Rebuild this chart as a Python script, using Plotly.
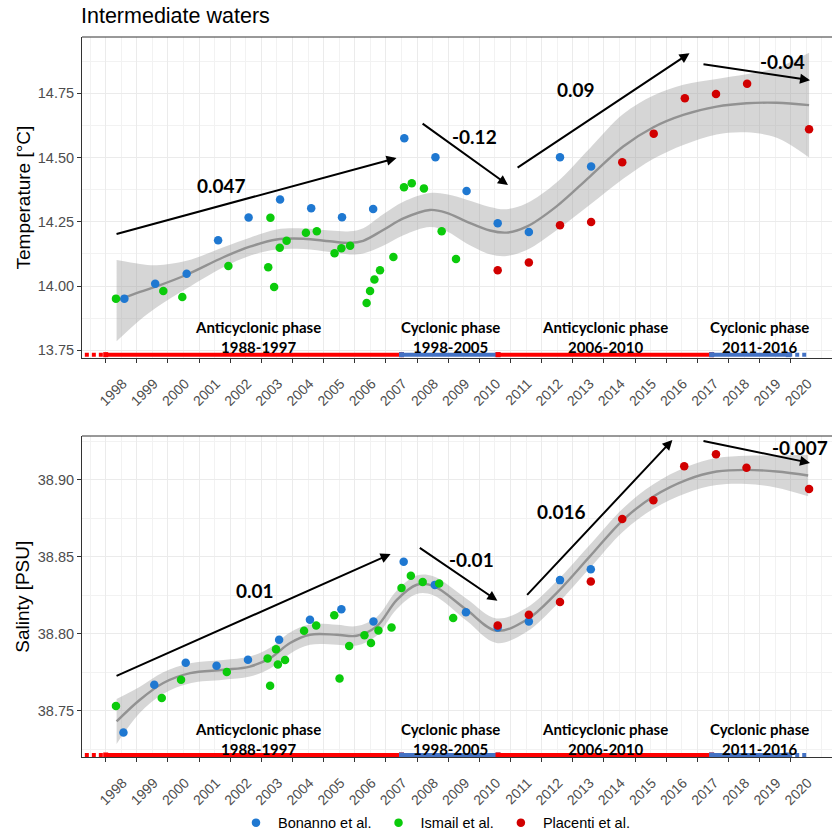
import plotly.graph_objects as go

# ---------------- data ----------------
tick_years = list(range(1998, 2021))

# Temperature (intermediate waters)
bon_t_year = [1998.60, 1999.59, 2000.60, 2001.61, 2002.59, 2003.60, 2004.60, 2005.59,
              2006.59, 2007.59, 2008.59, 2009.59, 2010.59, 2011.59, 2012.59, 2013.59]
bon_t_val = [13.951, 14.009, 14.048, 14.178, 14.267, 14.337, 14.303, 14.268,
             14.300, 14.575, 14.501, 14.370, 14.244, 14.210, 14.501, 14.465]

ism_t_year = [1998.33, 1999.85, 2000.46, 2001.94, 2003.22, 2003.29, 2003.41, 2003.59,
              2003.81, 2004.43, 2004.78, 2005.35, 2005.57, 2005.85, 2006.38, 2006.49,
              2006.63, 2006.81, 2007.24, 2007.58, 2007.83, 2008.22, 2008.79, 2009.25]
ism_t_val = [13.951, 13.981, 13.957, 14.078, 14.073, 14.266, 13.996, 14.149,
             14.176, 14.207, 14.213, 14.128, 14.147, 14.157, 13.934, 13.981,
             14.025, 14.061, 14.113, 14.384, 14.400, 14.380, 14.213, 14.105]

pla_t_year = [2010.59, 2011.59, 2012.59, 2013.59, 2014.59, 2015.60, 2016.60, 2017.60, 2018.60, 2020.59]
pla_t_val = [14.061, 14.092, 14.237, 14.249, 14.482, 14.593, 14.731, 14.747, 14.787, 14.610]

# smoothed temperature trend and half-width of its confidence band
fit_t_year = [1998.35, 1999.10, 1999.64, 2000.60, 2001.78, 2002.63, 2003.49, 2004.35,
              2005.20, 2005.84, 2006.27, 2006.91, 2007.56, 2008.41, 2008.95, 2009.59,
              2010.34, 2010.88, 2011.52, 2012.48, 2013.55, 2014.62, 2015.59, 2016.55,
              2017.62, 2018.58, 2019.55, 2020.59]
fit_t_val = [13.943, 13.977, 13.999, 14.044, 14.112, 14.153, 14.181, 14.184,
             14.174, 14.168, 14.176, 14.218, 14.263, 14.296, 14.285, 14.251,
             14.216, 14.208, 14.231, 14.310, 14.426, 14.543, 14.618, 14.666,
             14.698, 14.711, 14.713, 14.704]
fit_t_se = [0.158, 0.109, 0.082, 0.054, 0.039, 0.035, 0.039, 0.040,
            0.042, 0.045, 0.049, 0.061, 0.065, 0.066, 0.072, 0.085,
            0.092, 0.091, 0.091, 0.093, 0.110, 0.126, 0.123, 0.117,
            0.108, 0.113, 0.136, 0.204]

# Salinity (intermediate waters)
bon_s_year = [1998.57, 1999.56, 2000.57, 2001.56, 2002.57, 2003.57, 2004.56, 2005.57,
              2006.60, 2007.57, 2008.57, 2009.57, 2010.59, 2011.59, 2012.59, 2013.58]
bon_s_val = [38.7358, 38.7668, 38.7811, 38.7792, 38.7831, 38.7961, 38.8091, 38.8160,
             38.8080, 38.8468, 38.8318, 38.8140, 38.8041, 38.8080, 38.8349, 38.8420]

ism_s_year = [1998.33, 1999.80, 2000.42, 2001.89, 2003.20, 2003.28, 2003.47, 2003.53,
              2003.76, 2004.37, 2004.76, 2005.34, 2005.51, 2005.82, 2006.31, 2006.52,
              2006.76, 2007.18, 2007.50, 2007.80, 2008.18, 2008.71, 2009.16]
ism_s_val = [38.7530, 38.7582, 38.7701, 38.7751, 38.7840, 38.7662, 38.7900, 38.7800,
             38.7829, 38.8020, 38.8054, 38.8121, 38.7710, 38.7920, 38.7991, 38.7940,
             38.8021, 38.8041, 38.8298, 38.8377, 38.8337, 38.8327, 38.8102]

pla_s_year = [2010.59, 2011.59, 2012.59, 2013.58, 2014.59, 2015.59, 2016.58, 2017.60, 2018.58, 2020.59]
pla_s_val = [38.8054, 38.8124, 38.8207, 38.8340, 38.8747, 38.8869, 38.9090, 38.9168, 38.9079, 38.8941]

fit_s_year = [1998.35, 1999.10, 1999.85, 2000.71, 2001.78, 2002.63, 2003.28, 2003.92,
              2004.56, 2005.42, 2006.06, 2006.70, 2007.35, 2007.99, 2008.52, 2009.59,
              2010.55, 2011.52, 2012.48, 2013.55, 2014.62, 2015.59, 2016.66, 2017.62,
              2018.58, 2019.55, 2020.56]
fit_s_val = [38.7430, 38.7571, 38.7680, 38.7744, 38.7766, 38.7787, 38.7842, 38.7940,
             38.7994, 38.7994, 38.7987, 38.8048, 38.8221, 38.8319, 38.8312, 38.8156,
             38.8020, 38.8091, 38.8265, 38.8503, 38.8741, 38.8893, 38.9001, 38.9055,
             38.9066, 38.9055, 38.9029]
fit_s_se = [0.0146, 0.0085, 0.0070, 0.0065, 0.0064, 0.0065, 0.0067, 0.0069,
            0.0066, 0.0065, 0.0063, 0.0060, 0.0060, 0.0060, 0.0062, 0.0072,
            0.0080, 0.0078, 0.0076, 0.0076, 0.0076, 0.0080, 0.0085, 0.0088,
            0.0092, 0.0105, 0.0135]

# trend arrows: (start year, start value, end year, end value, label, label year, label value)
trend_t = [
    (1998.30, 14.201, 2007.34, 14.498, "0.047", 2001.73, 14.390),
    (2008.13, 14.636, 2010.92, 14.393, "-0.12", 2009.83, 14.582),
    (2011.18, 14.457, 2016.75, 14.906, "0.09", 2013.10, 14.763),
    (2017.15, 14.864, 2020.62, 14.801, "-0.04", 2019.73, 14.873),
]
trend_s = [
    (1998.30, 38.7722, 2007.15, 38.8518, "0.01", 2002.78, 38.8284),
    (2008.04, 38.8565, 2010.58, 38.8215, "-0.01", 2009.75, 38.8480),
    (2011.49, 38.8243, 2016.20, 38.9260, "0.016", 2012.65, 38.8792),
    (2017.15, 38.9256, 2020.62, 38.9111, "-0.007", 2020.29, 38.9212),
]

# circulation phases drawn along the time axis
phase_start = [1998.00, 2007.50, 2010.60, 2017.46]
phase_end = [2007.50, 2010.60, 2017.46, 2019.92]
phase_kind = ["anti", "cyc", "anti", "cyc"]
phase_names = ["Anticyclonic phase<br>1988-1997", "Cyclonic phase<br>1998-2005",
               "Anticyclonic phase<br>2006-2010", "Cyclonic phase<br>2011-2016"]
phase_label_year = [2002.89, 2009.06, 2014.02, 2019.00]
lead_in = [1997.33, 1998.00]
lead_out = [2019.92, 2020.55]

# ---------------- styling ----------------
C_BON = "#1F78D1"
C_ISM = "#0BCB0B"
C_PLA = "#D10000"
C_ANTI = "#FF0000"
C_CYC = "#4472C4"
TICK_FONT = dict(family="Liberation Sans, Arial", size=14, color="#4D4D4D")
BOLD = "Lato, Carlito, sans-serif"

W, H = 832, 835
PLOT_L = 82

panels = [
    dict(xa="x", ya="y", xname="xaxis", yname="yaxis",
         dom=[1 - 358 / H, 1 - 37 / H], yr=[13.72, 14.969],
         yt=[13.75, 14.00, 14.25, 14.50, 14.75], ydt=0.125,
         bon=(bon_t_year, bon_t_val), ism=(ism_t_year, ism_t_val), pla=(pla_t_year, pla_t_val),
         fit=(fit_t_year, fit_t_val, fit_t_se), trends=trend_t,
         bar_y=13.733, label_y=13.8005, title="Temperature [°C]", legend=True),
    dict(xa="x2", ya="y2", xname="xaxis2", yname="yaxis2",
         dom=[1 - 757.3 / H, 1 - 436 / H], yr=[38.7197, 38.9286],
         yt=[38.75, 38.80, 38.85, 38.90], ydt=0.025,
         bon=(bon_s_year, bon_s_val), ism=(ism_s_year, ism_s_val), pla=(pla_s_year, pla_s_val),
         fit=(fit_s_year, fit_s_val, fit_s_se), trends=trend_s,
         bar_y=38.7212, label_y=38.7319, title="Salinty [PSU]", legend=False),
]

fig = go.Figure()
annotations = []
shapes = []
layout = {}

for p in panels:
    xa, ya = p["xa"], p["ya"]
    fy, fv, fs = p["fit"]
    lower = [v - s for v, s in zip(fv, fs)]
    upper = [v + s for v, s in zip(fv, fs)]
    # confidence band of the smooth
    fig.add_trace(go.Scatter(x=fy, y=lower, mode="lines", line=dict(width=0, shape="spline"),
                             xaxis=xa, yaxis=ya, showlegend=False, hoverinfo="skip"))
    fig.add_trace(go.Scatter(x=fy, y=upper, mode="lines", line=dict(width=0, shape="spline"),
                             fill="tonexty", fillcolor="rgba(153,153,153,0.4)",
                             xaxis=xa, yaxis=ya, showlegend=False, hoverinfo="skip"))
    fig.add_trace(go.Scatter(x=fy, y=fv, mode="lines",
                             line=dict(color="#929292", width=2.4, shape="spline"),
                             xaxis=xa, yaxis=ya, showlegend=False, hoverinfo="skip"))
    # observations
    for key, name, col in [("bon", "Bonanno et al.", C_BON),
                           ("ism", "Ismail et al.", C_ISM),
                           ("pla", "Placenti et al.", C_PLA)]:
        xs, ys = p[key]
        fig.add_trace(go.Scatter(x=xs, y=ys, mode="markers", name=name,
                                 marker=dict(color=col, size=8.5, line=dict(width=0)),
                                 xaxis=xa, yaxis=ya, showlegend=p["legend"], legendgroup=name))
    # phase bars
    fig.add_trace(go.Scatter(x=lead_in, y=[p["bar_y"]] * 2, mode="lines",
                             line=dict(color=C_ANTI, width=4, dash="4px,3px"),
                             xaxis=xa, yaxis=ya, showlegend=False, hoverinfo="skip"))
    fig.add_trace(go.Scatter(x=lead_out, y=[p["bar_y"]] * 2, mode="lines",
                             line=dict(color=C_CYC, width=4, dash="4px,3px"),
                             xaxis=xa, yaxis=ya, showlegend=False, hoverinfo="skip"))
    for s, e, k in zip(phase_start, phase_end, phase_kind):
        col = C_ANTI if k == "anti" else C_CYC
        fig.add_trace(go.Scatter(x=[s, e], y=[p["bar_y"]] * 2, mode="lines",
                                 line=dict(color=col, width=4),
                                 xaxis=xa, yaxis=ya, showlegend=False, hoverinfo="skip"))
        fig.add_trace(go.Scatter(x=[s, e], y=[p["bar_y"]] * 2, mode="markers",
                                 marker=dict(symbol="square", color=col, size=5),
                                 xaxis=xa, yaxis=ya, showlegend=False, hoverinfo="skip"))
    for name, lx in zip(phase_names, phase_label_year):
        annotations.append(dict(x=lx, y=p["label_y"], xref=xa, yref=ya, text=name,
                                showarrow=False, xanchor="center", yanchor="middle",
                                font=dict(family=BOLD, size=15, color="black", weight="bold")))
    # trend arrows and labels
    for x0, y0, x1, y1, lab, lx, ly in p["trends"]:
        annotations.append(dict(x=x1, y=y1, ax=x0, ay=y0, xref=xa, yref=ya, axref=xa, ayref=ya,
                                text="", showarrow=True, arrowhead=2, arrowsize=1,
                                arrowwidth=2, arrowcolor="black", standoff=0, startstandoff=0))
        annotations.append(dict(x=lx, y=ly, xref=xa, yref=ya, text=lab, showarrow=False,
                                xanchor="center", yanchor="middle",
                                font=dict(family=BOLD, size=19, color="black", weight="bold")))
    # y-axis title
    annotations.append(dict(x=-(PLOT_L - 23) / (W - PLOT_L), y=(p["dom"][0] + p["dom"][1]) / 2,
                            xref="paper", yref="paper", text=p["title"], textangle=-90,
                            showarrow=False, xanchor="center", yanchor="middle",
                            font=dict(family="Liberation Sans, Arial", size=19, color="black")))
    # top border of the panel
    shapes.append(dict(type="line", xref="paper", yref="paper", x0=0, x1=1,
                       y0=p["dom"][1], y1=p["dom"][1], line=dict(color="#333333", width=1)))

    layout[p["xname"]] = dict(
        domain=[0, 1], range=[1997.239, 2021.326], anchor=ya,
        tickvals=tick_years, ticktext=[str(y) for y in tick_years], tickangle=-45,
        ticks="outside", ticklen=4, tickcolor="#333333", tickfont=TICK_FONT,
        ticklabelshift=17, ticklabelstandoff=7, automargin=False,
        showgrid=True, gridcolor="#EBEBEB", gridwidth=1.4,
        minor=dict(dtick=0.5, tick0=1997.5, showgrid=True, gridcolor="#F2F2F2", gridwidth=0.8, ticks=""),
        showline=True, linecolor="#333333", linewidth=1, zeroline=False)
    layout[p["yname"]] = dict(
        domain=p["dom"], range=p["yr"], anchor=xa, automargin=False,
        tickvals=p["yt"], ticktext=[f"{v:.2f}" for v in p["yt"]],
        ticks="outside", ticklen=4, tickcolor="#333333",
        tickfont=dict(family="Liberation Sans, Arial", size=14.5, color="#4D4D4D"),
        showgrid=True, gridcolor="#EBEBEB", gridwidth=1.4,
        minor=dict(dtick=p["ydt"], tick0=p["yt"][0] - p["ydt"], showgrid=True,
                   gridcolor="#F2F2F2", gridwidth=0.8, ticks=""),
        showline=True, linecolor="#333333", linewidth=1, zeroline=False)

annotations.append(dict(x=0, y=1 - 16 / H, xref="paper", yref="paper", text="Intermediate waters",
                        showarrow=False, xanchor="left", yanchor="middle", xshift=-3,
                        font=dict(family="Liberation Sans, Arial", size=21.5, color="black")))

fig.update_layout(
    width=W, height=H,
    margin=dict(l=PLOT_L, r=0, t=0, b=0, autoexpand=False),
    paper_bgcolor="white", plot_bgcolor="white",
    annotations=annotations, shapes=shapes,
    legend=dict(orientation="h", x=(234 - PLOT_L) / (W - PLOT_L), y=1 - 822.7 / H,
                xanchor="left", yanchor="middle", itemwidth=34,
                font=dict(family="Liberation Sans, Arial", size=14.5, color="black"),
                itemclick=False, itemdoubleclick=False),
    **layout,
)

fig.write_html("out.html")
